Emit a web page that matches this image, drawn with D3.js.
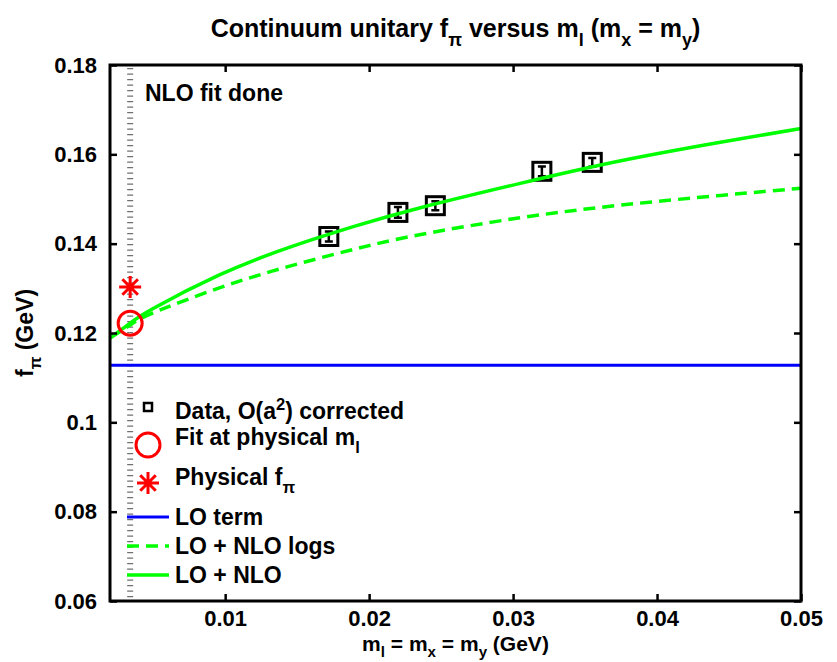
<!DOCTYPE html>
<html lang="en">
<head>
    <meta charset="UTF-8">
    <title>Continuum unitary f_pi versus m_l</title>
    <style>
        body {
            margin: 0;
            background-color: #ffffff;
        }
        svg text {
            font-family: 'Liberation Sans', Arial, Helvetica, sans-serif;
            font-weight: bold;
            fill: #000;
        }
    </style>
    <script src="https://d3js.org/d3.v7.min.js"></script>
</head>
<body>
<svg id="chart" width="837" height="662"></svg>
<script>
    // Lattice data points (O(a^2) corrected)
    const dataX = [0.0172, 0.0220, 0.0246, 0.0320, 0.0355];
    const dataY = [0.1416, 0.1470, 0.1485, 0.1562, 0.1582];
    const dataErr = [0.0011, 0.0012, 0.0010, 0.0011, 0.0010];

    // Physical point
    const physMl = 0.0034;
    const fitAtPhys = 0.1222;
    const physFpi = 0.1303;

    // LO term (constant)
    const loTerm = 0.1128;

    // Curves
    const curveX = [0.002, 0.0034, 0.005, 0.0096, 0.0143, 0.0189, 0.0235, 0.0305, 0.0374, 0.0444, 0.05];
    const nloY   = [0.1189, 0.1222, 0.1255, 0.1330, 0.1390, 0.1438, 0.1480, 0.1535, 0.1585, 0.1627, 0.1658];
    const logsY  = [0.1189, 0.1218, 0.1245, 0.1301, 0.1348, 0.1387, 0.1420, 0.1458, 0.1486, 0.1508, 0.1524];

    const xTicks = [0.01, 0.02, 0.03, 0.04, 0.05];
    const yTicks = [0.06, 0.08, 0.1, 0.12, 0.14, 0.16, 0.18];

    const svg = d3.select("#chart");
    const pL = 110, pT = 65, pR = 801, pB = 601;

    const x = d3.scaleLinear().domain([0.002, 0.05]).range([pL, pR]);
    const y = d3.scaleLinear().domain([0.06, 0.18]).range([pB, pT]);

    const fmt = d => String(+d.toFixed(2));

    // vertical dotted line at physical m_l
    svg.append("line")
        .attr("x1", x(physMl)).attr("x2", x(physMl))
        .attr("y1", pT + 3).attr("y2", pB)
        .attr("stroke", "#707070")
        .attr("stroke-width", 6)
        .attr("stroke-dasharray", "1.3,4.2");

    // LO term
    svg.append("line")
        .attr("x1", pL).attr("x2", pR)
        .attr("y1", y(loTerm)).attr("y2", y(loTerm))
        .attr("stroke", "#0000ff")
        .attr("stroke-width", 3);

    // data points with error bars
    const pts = dataX.map((d, i) => ({x: d, y: dataY[i], e: dataErr[i]}));
    const pg = svg.append("g").selectAll("g").data(pts).enter().append("g")
        .attr("transform", d => `translate(${x(d.x)},${y(d.y)})`);
    pg.append("rect")
        .attr("x", -9).attr("y", -9).attr("width", 18).attr("height", 18)
        .attr("fill", "#fff").attr("stroke", "#000").attr("stroke-width", 3);
    pg.append("path")
        .attr("d", d => {
            const dy = y(d.y - d.e) - y(d.y);
            return `M0,${-dy}V${dy}M-4,${-dy}H4M-4,${dy}H4`;
        })
        .attr("stroke", "#000").attr("stroke-width", 2.5).attr("fill", "none");

    // curves
    const line = d3.line().x(d => x(d[0])).y(d => y(d[1])).curve(d3.curveNatural);
    svg.append("path")
        .attr("d", line(curveX.map((d, i) => [d, logsY[i]])))
        .attr("fill", "none").attr("stroke", "#00ff00")
        .attr("stroke-width", 3.5).attr("stroke-dasharray", "12,7");
    svg.append("path")
        .attr("d", line(curveX.map((d, i) => [d, nloY[i]])))
        .attr("fill", "none").attr("stroke", "#00ff00")
        .attr("stroke-width", 3.5);

    // physical points
    function star(g, cx, cy, r) {
        const a = r * Math.SQRT1_2;
        g.append("path")
            .attr("d", `M${cx - r},${cy}H${cx + r}M${cx},${cy - r}V${cy + r}` +
                `M${cx - a},${cy - a}L${cx + a},${cy + a}M${cx - a},${cy + a}L${cx + a},${cy - a}`)
            .attr("stroke", "#ff0000").attr("stroke-width", 3).attr("fill", "none");
    }
    svg.append("circle")
        .attr("cx", x(physMl)).attr("cy", y(fitAtPhys)).attr("r", 12)
        .attr("fill", "none").attr("stroke", "#ff0000").attr("stroke-width", 3);
    star(svg, x(physMl), y(physFpi), 11);

    // axes box
    svg.append("rect")
        .attr("x", pL).attr("y", pT).attr("width", pR - pL).attr("height", pB - pT)
        .attr("fill", "none").attr("stroke", "#000").attr("stroke-width", 3);

    const xAxis = svg.append("g").attr("transform", `translate(0,${pB})`)
        .call(d3.axisBottom(x).tickValues(xTicks).tickSizeInner(-7).tickSizeOuter(0).tickPadding(12).tickFormat(fmt));
    svg.append("g").attr("transform", `translate(0,${pT})`)
        .call(d3.axisTop(x).tickValues(xTicks).tickSizeInner(-7).tickSizeOuter(0).tickFormat(""));
    svg.append("g").attr("transform", `translate(${pL},0)`)
        .call(d3.axisLeft(y).tickValues(yTicks).tickSizeInner(-7).tickSizeOuter(0).tickPadding(13).tickFormat(fmt));
    svg.append("g").attr("transform", `translate(${pR},0)`)
        .call(d3.axisRight(y).tickValues(yTicks).tickSizeInner(-7).tickSizeOuter(0).tickFormat(""));
    svg.selectAll(".domain").remove();
    svg.selectAll(".tick line").attr("stroke", "#000").attr("stroke-width", 2.5);
    svg.selectAll(".tick text")
        .attr("font-family", "'Liberation Sans', Arial, sans-serif")
        .attr("font-weight", "bold").attr("font-size", 22).attr("fill", "#000");
    xAxis.selectAll(".tick text").attr("dy", "0.6em");

    // helper for text with subscripts / superscripts
    function richText(sel, parts, size, off = 8) {
        parts.forEach(p => {
            const t = sel.append("tspan").text(p[0]);
            if (p[1] === "sub") t.attr("dy", off).attr("font-size", size * 0.72);
            else if (p[1] === "sup") t.attr("dy", -9).attr("font-size", size * 0.72);
            else t.attr("font-size", size);
            if (p[2] === "back") t.attr("dy", -off);
            else if (p[2]) t.attr("dy", p[2]);
        });
    }

    // title
    const title = svg.append("text").attr("x", (pL + pR) / 2).attr("y", 37)
        .attr("text-anchor", "middle");
    richText(title, [["Continuum unitary f"], ["\u03c0", "sub"], [" versus m", null, "back"], ["l", "sub"],
        [" (m", null, "back"], ["x", "sub"], [" = m", null, "back"], ["y", "sub"], [")", null, "back"]], 25, 9);

    // x label
    const xl = svg.append("text").attr("x", (pL + pR) / 2).attr("y", 651)
        .attr("text-anchor", "middle");
    richText(xl, [["m"], ["l", "sub"], [" = m", null, "back"], ["x", "sub"], [" = m", null, "back"], ["y", "sub"],
        [" (GeV)", null, "back"]], 21, 6);

    // y label
    const yl = svg.append("text")
        .attr("transform", `translate(33,${(pT + pB) / 2}) rotate(-90)`)
        .attr("text-anchor", "middle");
    richText(yl, [["f"], ["\u03c0", "sub"], [" (GeV)", null, "back"]], 23);

    // annotation
    svg.append("text").attr("x", 145).attr("y", 101).attr("font-size", 23).text("NLO fit done");

    // legend
    const lg = svg.append("g");
    const lx = 148, tx = 175, fs = 23;
    lg.append("rect").attr("x", lx - 4).attr("y", 403).attr("width", 8).attr("height", 8)
        .attr("fill", "#fff").attr("stroke", "#000").attr("stroke-width", 2.5);
    richText(lg.append("text").attr("x", tx).attr("y", 419),
        [["Data, O(a"], ["2", "sup"], [") corrected", null, 9]], fs);

    lg.append("circle").attr("cx", lx).attr("cy", 445).attr("r", 12)
        .attr("fill", "none").attr("stroke", "#ff0000").attr("stroke-width", 3);
    richText(lg.append("text").attr("x", tx).attr("y", 445),
        [["Fit at physical m"], ["l", "sub"]], fs);

    star(lg, lx, 483, 11);
    richText(lg.append("text").attr("x", tx).attr("y", 485),
        [["Physical f"], ["\u03c0", "sub"]], fs);

    lg.append("line").attr("x1", 127).attr("x2", 169).attr("y1", 517).attr("y2", 517)
        .attr("stroke", "#0000ff").attr("stroke-width", 3);
    lg.append("text").attr("x", tx).attr("y", 525).attr("font-size", fs).text("LO term");

    lg.append("line").attr("x1", 127).attr("x2", 169).attr("y1", 546).attr("y2", 546)
        .attr("stroke", "#00ff00").attr("stroke-width", 3.5).attr("stroke-dasharray", "12,7");
    lg.append("text").attr("x", tx).attr("y", 554).attr("font-size", fs).text("LO + NLO logs");

    lg.append("line").attr("x1", 127).attr("x2", 169).attr("y1", 575).attr("y2", 575)
        .attr("stroke", "#00ff00").attr("stroke-width", 3.5);
    lg.append("text").attr("x", tx).attr("y", 583).attr("font-size", fs).text("LO + NLO");
</script>
</body>
</html>
